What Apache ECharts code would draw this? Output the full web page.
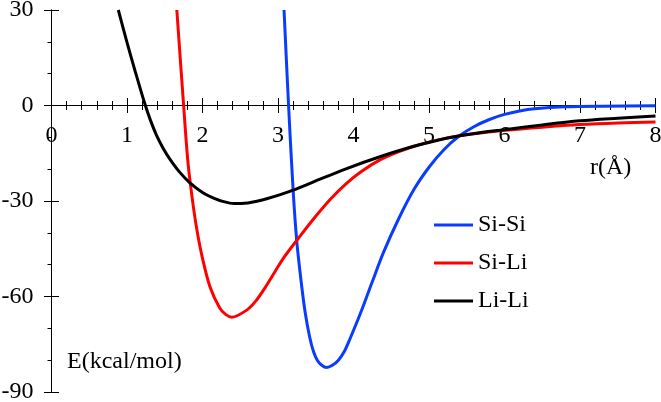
<!DOCTYPE html>
<html>
<head>
<meta charset="utf-8">
<script src="https://cdn.jsdelivr.net/npm/echarts@6/dist/echarts.min.js"></script>
<style>
    html, body { margin: 0; padding: 0; background: #fff; }
    #chart { width: 661px; height: 402px; }
</style>
</head>
<body>
<div id="chart"></div>
<script>
// 曲线数据（从图上读出的点）
var siSiR = [3.08, 3.14, 3.20, 3.25, 3.31, 3.36, 3.42, 3.47, 3.52, 3.58, 3.645, 3.72, 3.80, 3.88, 3.95, 4.10, 4.25, 4.40, 4.60, 4.80, 5.00, 5.20, 5.40, 5.60, 5.80, 6.00, 6.20, 6.40, 6.80, 7.30, 8.00];
var siSiE = [30, 0, -26.5, -43, -56, -65, -72.8, -77.3, -80.0, -81.6, -82.3, -81.6, -80.0, -77.2, -73.5, -64.8, -55.3, -46, -35.5, -26.4, -19.4, -13.8, -9.6, -6.6, -4.4, -2.8, -1.7, -1.0, -0.4, -0.2, -0.1];

var siLiR = [1.66, 1.75, 1.81, 1.88, 1.94, 2.00, 2.10, 2.23, 2.31, 2.39, 2.59, 2.71, 2.83, 2.95, 3.07, 3.30, 3.50, 3.70, 3.90, 4.10, 4.35, 4.60, 4.80, 5.20, 5.60, 6.00, 6.50, 7.00, 7.50, 8.00];
var siLiE = [30, 0, -18.5, -32, -41, -48, -57, -63.7, -65.7, -66.5, -64.2, -61.3, -57.2, -52.6, -48, -40.8, -34.8, -29.3, -24.6, -20.8, -17.1, -14.5, -12.8, -10.4, -8.9, -7.8, -6.8, -6.0, -5.5, -5.2];

var liLiR = [0.885, 1.00, 1.11, 1.23, 1.31, 1.39, 1.48, 1.57, 1.70, 1.83, 2.00, 2.14, 2.28, 2.42, 2.60, 2.72, 2.85, 3.03, 3.20, 3.47, 3.91, 4.35, 4.79, 5.23, 5.60, 6.00, 6.50, 7.00, 7.50, 8.00];
var liLiE = [30, 19.8, 10.6, 1.0, -4.6, -9.3, -13.5, -16.9, -21.0, -24.2, -27.3, -29.0, -30.2, -30.8, -30.6, -30.1, -29.3, -28.0, -26.6, -24.0, -19.8, -16.1, -12.9, -10.3, -8.8, -7.6, -6.1, -4.8, -4.0, -3.3];

var seriesNames = ['Si-Si', 'Si-Li', 'Li-Li'];
var seriesColors = ['#0a3cff', '#ff0000', '#000000'];

var xMin = 0, xMax = 8, xStep = 1;
var yMin = -90, yMax = 30, yStep = 30;

var fontName = '"Liberation Serif", "Times New Roman", serif';
var fontSize = 24;
var black = '#000';

// 绘图区
var gridLeft = 51.5, gridRight = 5.5, gridTop = 10, gridBottom = 10;
var chartW = 661, chartH = 402;
var plotW = chartW - gridLeft - gridRight;
var plotH = chartH - gridTop - gridBottom;
// 横轴画在 E=0 处，纵轴都画在 r=0 处
var zeroFromTop = plotH * (yMax - 0) / (yMax - yMin);

function zip(xs, ys) {
    return xs.map(function (x, i) {
        return [x, ys[i]];
    });
}

function makeSeries(index, xs, ys) {
    return {
        name: seriesNames[index],
        type: 'line',
        data: zip(xs, ys),
        smooth: 0.3,
        showSymbol: false,
        symbol: 'none',
        lineStyle: { color: seriesColors[index], width: 3 },
        itemStyle: { color: seriesColors[index] },
        clip: true
    };
}

function xAxisPart(pos, offset, showLabel) {
    return {
        type: 'value',
        position: pos,
        offset: offset,
        min: xMin,
        max: xMax,
        interval: xStep,
        axisLine: { onZero: false, lineStyle: { color: black, width: 1 } },
        axisTick: { show: true, length: 7.5, lineStyle: { color: black } },
        minorTick: { show: true, splitNumber: 5, length: 4.5, lineStyle: { color: black } },
        axisLabel: { show: showLabel, margin: 18, fontFamily: fontName, fontSize: fontSize, color: black },
        splitLine: { show: false }
    };
}

var mychart = echarts.init(document.getElementById('chart'));
var option = {
    animation: false,
    backgroundColor: '#fff',
    textStyle: { fontFamily: fontName },
    grid: {
        left: gridLeft,
        right: gridRight,
        top: gridTop,
        bottom: gridBottom,
        containLabel: false,
        outerBoundsMode: 'none'
    },
    legend: {
        orient: 'vertical',
        left: 429,
        top: 208,
        icon: 'rect',
        itemWidth: 39,
        itemHeight: 3,
        itemGap: 14,
        data: seriesNames,
        textStyle: { fontFamily: fontName, fontSize: fontSize, color: black }
    },
    xAxis: [
        xAxisPart('bottom', -(plotH - zeroFromTop), true),
        xAxisPart('top', -zeroFromTop, false)
    ],
    yAxis: [{
        type: 'value',
        position: 'left',
        min: yMin,
        max: yMax,
        interval: yStep,
        axisLine: { onZero: false, lineStyle: { color: black, width: 1 } },
        axisTick: { show: true, length: 7.5, lineStyle: { color: black } },
        minorTick: { show: true, splitNumber: 3, length: 4, lineStyle: { color: black } },
        axisLabel: { margin: 18, fontFamily: fontName, fontSize: fontSize, color: black },
        splitLine: { show: false }
    }, {
        // 纵轴右侧的刻度
        type: 'value',
        position: 'right',
        offset: -plotW,
        min: yMin,
        max: yMax,
        interval: yStep,
        axisLine: { onZero: false, lineStyle: { color: black, width: 1 } },
        axisTick: { show: true, length: 7.5, lineStyle: { color: black } },
        axisLabel: { show: false },
        splitLine: { show: false }
    }],
    graphic: [{
        type: 'text',
        left: 590,
        top: 156,
        style: { text: 'r(Å)', font: fontSize + 'px "Liberation Serif"', fill: black }
    }, {
        type: 'text',
        left: 67,
        top: 350,
        style: { text: 'E(kcal/mol)', font: fontSize + 'px "Liberation Serif"', fill: black }
    }],
    series: [
        makeSeries(0, siSiR, siSiE),
        makeSeries(1, siLiR, siLiE),
        makeSeries(2, liLiR, liLiE)
    ]
};
mychart.setOption(option);
</script>
</body>
</html>
